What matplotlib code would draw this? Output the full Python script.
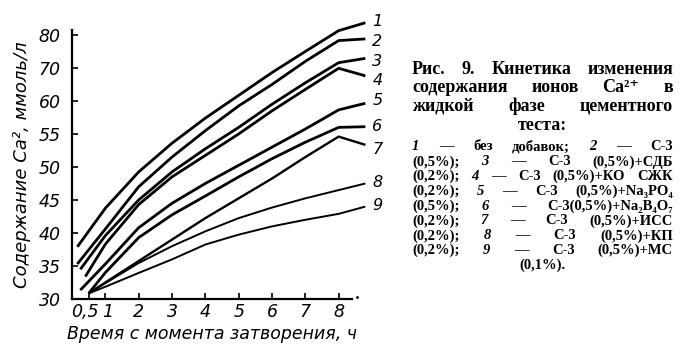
import numpy as np
import matplotlib
matplotlib.use("Agg")
import matplotlib.pyplot as plt
from matplotlib.transforms import ScaledTranslation

# --- data (Ca2+ content, mmol/l) ---
hours = [1, 2, 3, 4, 5, 6, 7, 8, 8.8]
start_hours = [0.16, 0.16, 0.25, 0.4, 0.25, 0.5, 0.5, 0.5, 0.5]
start_values = [37.9, 35.3, 34.5, 33.4, 31.35, 30.85, 30.85, 30.85, 30.85]

c1 = [43.75, 49.25, 53.6, 57.4, 61.7, 68.6, 75.0, 81.3, 83.7]
c2 = [40.6, 47.0, 51.5, 55.5, 59.25, 65.0, 72.0, 78.3, 78.8]
c3 = [39.6, 45.0, 49.25, 52.75, 56.0, 59.5, 65.5, 71.6, 72.9]
c4 = [38.3, 44.3, 48.5, 51.75, 55.0, 58.5, 63.5, 69.9, 67.6]
c5 = [35.3, 40.8, 44.5, 47.5, 50.25, 53.0, 55.75, 58.65, 59.65]
c6 = [34.0, 39.3, 42.75, 45.6, 48.5, 51.25, 53.75, 56.0, 56.1]
c7 = [32.5, 35.75, 39.0, 42.25, 45.25, 48.25, 51.5, 54.6, 53.35]
c8 = [32.4, 35.45, 38.0, 40.25, 42.25, 43.85, 45.25, 46.5, 47.5]
c9 = [31.85, 33.95, 36.0, 38.25, 39.75, 41.0, 42.0, 42.9, 44.0]
curves = [c1, c2, c3, c4, c5, c6, c7, c8, c9]
curve_names = ['1', '2', '3', '4', '5', '6', '7', '8', '9']

x_ticks = [0.5, 1, 2, 3, 4, 5, 6, 7, 8]
x_ticklabels = ['0,5', '1', '2', '3', '4', '5', '6', '7', '8']
y_ticks = [30, 35, 40, 45, 50, 55, 60, 70, 80]

title_lines = ['Рис. 9. Кинетика изменения',
               'содержания ионов Ca²⁺ в',
               'жидкой фазе цементного']
title_last = 'теста:'
legend_lines = ['1 — без добавок; 2 — С-3',
                '(0,5%); 3 — С-3 (0,5%)+СДБ',
                '(0,2%); 4 — С-3 (0,5%)+КО СЖК',
                '(0,2%); 5 — С-3 (0,5%)+Na₃PO₄',
                '(0,5%); 6 — С-3(0,5%)+Na₂B₄O₇',
                '(0,2%); 7 — С-3 (0,5%)+ИСС',
                '(0,2%); 8 — С-3 (0,5%)+КП',
                '(0,2%); 9 — С-3 (0,5%)+МС']
legend_last = '(0,1%).'

# styling (not data)
line_widths = [2.0, 2.0, 2.0, 2.0, 2.0, 2.0, 1.7, 1.4, 1.4]
label_dy = [1, -2, -2, -3, 2, 0, -3, 1, 1]  # points

# piecewise axis: 5 mmol/l per step up to 60, then 10 per step
def fwd(v):
    return np.interp(v, [-1000, 60, 1000], [(-1000 - 30) / 5, 6, 6 + 94])

def inv(l):
    return np.interp(l, [(-1000 - 30) / 5, 6, 6 + 94], [-1000, 60, 1000])

W, H = 684, 355
fig = plt.figure(figsize=(W / 100, H / 100), dpi=100)
ax = fig.add_axes([72 / W, 1 - 299 / H, 280 / W, 269 / H])
ax.set_yscale('function', functions=(fwd, inv))

for name, vals, x0, y0, lw, dy in zip(curve_names, curves, start_hours, start_values,
                                      line_widths, label_dy):
    xs = [x0] + hours
    ys = [y0] + vals
    ax.plot(xs, ys, color='black', lw=lw, clip_on=False, solid_capstyle='butt')
    ax.annotate(name, (xs[-1], ys[-1]), xytext=(5, dy), textcoords='offset points',
                ha='left', va='center', fontsize=11.5, style='italic',
                annotation_clip=False)

ax.set_xlim(0, 8.4)
ax.set_ylim(30, 81.5)
ax.set_xticks(x_ticks)
ax.set_xticklabels(x_ticklabels)
ax.set_yticks(y_ticks)
ax.set_yticklabels([str(v) for v in y_ticks])
ax.minorticks_off()
ax.tick_params(direction='in', length=4, width=1.2, labelsize=12.5)
ax.tick_params(axis='x', pad=3)
ax.tick_params(axis='y', pad=8)
for lab in ax.get_xticklabels() + ax.get_yticklabels():
    lab.set_style('italic')
# nudge "0,5" left so it does not run into "1"
xl = ax.get_xticklabels()
xl[0].set_transform(xl[0].get_transform() + ScaledTranslation(-3 / 72, 0, fig.dpi_scale_trans))
xl[1].set_transform(xl[1].get_transform() + ScaledTranslation(2 / 72, 0, fig.dpi_scale_trans))
for s in ['top', 'right']:
    ax.spines[s].set_visible(False)
for s in ['left', 'bottom']:
    ax.spines[s].set_linewidth(1.6)
ax.set_xlabel('Время с момента затворения, ч', fontsize=12.5, style='italic', labelpad=3)
ax.set_ylabel('Содержание Ca², ммоль/л', fontsize=13, style='italic', labelpad=6)
ax.plot([8.55], [30.3], marker='.', color='black', ms=2, clip_on=False)

# --- caption on the right, justified lines ---
renderer = fig.canvas.get_renderer()
serif = ['Liberation Serif', 'DejaVu Serif']
cx0, cx1 = 412, 673

def justify(line, ypx, size, weight):
    words = line.split(' ')
    texts = []
    for w in words:
        num = len(w) == 1 and w.isdigit()
        t = fig.text(0, 1 - ypx / H, w, fontsize=size, family=serif,
                     weight='bold' if num else weight,
                     style='italic' if num else 'normal', va='center', ha='left')
        texts.append(t)
    widths = [t.get_window_extent(renderer).width for t in texts]
    gap = (cx1 - cx0 - sum(widths)) / max(len(words) - 1, 1)
    pos = cx0
    for t, w in zip(texts, widths):
        t.set_x(pos / W)
        pos += w + gap

for i, line in enumerate(title_lines):
    justify(line, 69 + i * 18.5, 13, 'bold')
fig.text((cx0 + cx1) / 2 / W, 1 - 125 / H, title_last, fontsize=13, family=serif,
         weight='bold', ha='center', va='center')
for i, line in enumerate(legend_lines):
    justify(line, 147 + i * 14.8, 10.5, 'bold')
fig.text((cx0 + cx1) / 2 / W, 1 - (147 + 8 * 14.8) / H, legend_last, fontsize=10.5,
         family=serif, weight='bold', ha='center', va='center')

fig.savefig('out.png', dpi=100)
